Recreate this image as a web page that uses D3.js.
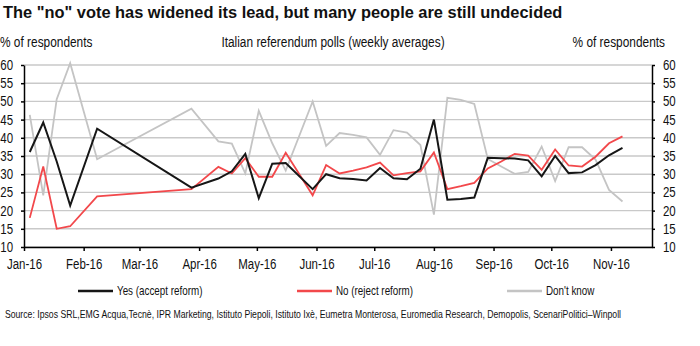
<!DOCTYPE html>
<html>
<head>
<meta charset="utf-8">
<script src="https://cdn.jsdelivr.net/npm/d3@7"></script>
<style>
  body { margin: 0; background: #fff; }
  svg { display: block; }
</style>
</head>
<body>
<svg id="chart" width="700" height="346"></svg>
<script>
// weekly poll averages
var weeks = ["2016-01-04","2016-01-11","2016-01-18","2016-01-25","2016-02-08","2016-03-28",
             "2016-04-11","2016-04-18","2016-04-25","2016-05-02","2016-05-09","2016-05-16",
             "2016-05-30","2016-06-06","2016-06-13","2016-06-20","2016-06-27","2016-07-04",
             "2016-07-11","2016-07-18","2016-07-25","2016-08-01","2016-08-08","2016-08-15",
             "2016-08-22","2016-08-29","2016-09-05","2016-09-12","2016-09-19","2016-09-26",
             "2016-10-03","2016-10-10","2016-10-17","2016-10-24","2016-10-31","2016-11-07"];

var yesValues = [36.1, 44.2, 33.5, 21.4, 42.5, 26.3, 28.8, 30.8, 35.6, 23.4, 32.9, 33.1,
                 25.9, 30.0, 28.9, 28.7, 28.3, 31.7, 28.9, 28.6, 31.5, 45.0, 23.0, 23.2,
                 23.6, 34.5, 34.4, 34.3, 33.8, 29.4, 35.0, 30.3, 30.5, 32.5, 35.2, 37.2];

var noValues = [18.0, 32.1, 15.0, 15.7, 23.9, 25.9, 32.0, 30.2, 34.4, 29.3, 29.3, 35.9,
                24.2, 32.5, 30.2, 31.0, 31.9, 33.2, 29.7, 30.3, 30.8, 36.0, 25.9, 26.7,
                27.6, 31.6, 33.5, 35.6, 35.1, 31.2, 36.8, 32.4, 32.1, 34.8, 38.5, 40.4];

var dontKnowValues = [46.3, 24.2, 50.6, 60.5, 34.1, 48.0, 39.0, 38.4, 30.2, 47.4, 38.5, 31.0,
                      50.0, 37.8, 41.3, 40.8, 40.1, 35.3, 42.1, 41.4, 38.0, 18.9, 51.0, 50.4,
                      49.3, 34.2, 32.1, 30.1, 30.6, 37.6, 28.1, 37.4, 37.4, 34.0, 25.7, 22.5];

var yTicks = [10, 15, 20, 25, 30, 35, 40, 45, 50, 55, 60];
var monthTicks = ["2016-01-01","2016-02-01","2016-03-01","2016-04-01","2016-05-01","2016-06-01",
                  "2016-07-01","2016-08-01","2016-09-01","2016-10-01","2016-11-01"];

var seriesNames = ["Yes (accept reform)", "No (reject reform)", "Don't know"];

var parseDay = d3.timeParse("%Y-%m-%d");
var font = "'Liberation Sans', Arial, sans-serif";

// no Arial Narrow here, so squeeze the regular face sideways around its anchor
function narrow(sel) {
	sel.each(function() {
		var t = d3.select(this);
		var x = +t.attr("x") || 0;
		t.attr("transform", "translate(" + x + ",0) scale(0.82,1) translate(" + (-x) + ",0)");
	});
}

var margin = {top: 65, right: 48, bottom: 99, left: 24},
	width = 700 - margin.left - margin.right,
	height = 346 - margin.top - margin.bottom;

var svgRoot = d3.select("#chart");
var svg = svgRoot.append("g")
	.attr("transform", "translate(" + margin.left + "," + margin.top + ")");

var xScale = d3.scaleTime()
	.domain([new Date(2016, 0, 1), new Date(2016, 10, 22, 8)])
	.range([0, width]);

var yScale = d3.scaleLinear()
	.domain([10, 60])
	.range([height, 0]);

// horizontal gridlines
svg.selectAll(".grid")
	.data(yTicks)
	.enter()
	.append("line")
	.attr("class", "grid")
	.attr("x1", 0)
	.attr("x2", width)
	.attr("y1", function(d) { return yScale(d); })
	.attr("y2", function(d) { return yScale(d); })
	.attr("stroke", "#c9c9c9")
	.attr("stroke-width", 1.4);

var series = [
	{name: seriesNames[0], values: yesValues, color: "#161616", width: 2},
	{name: seriesNames[1], values: noValues, color: "#f2484b", width: 1.8},
	{name: seriesNames[2], values: dontKnowValues, color: "#c4c4c4", width: 1.8}
];

var line = d3.line()
	.x(function(d) { return xScale(d.date); })
	.y(function(d) { return yScale(d.value); });

// draw don't know first so the others sit on top
series.slice().reverse().forEach(function(s) {
	var pts = weeks.map(function(w, i) { return {date: parseDay(w), value: s.values[i]}; })
		.filter(function(d) { return d.value != null; });
	svg.append("path")
		.datum(pts)
		.attr("fill", "none")
		.attr("stroke", s.color)
		.attr("stroke-width", s.width)
		.attr("d", line);
});

// axes
var xAxis = d3.axisBottom(xScale)
	.tickValues(monthTicks.map(parseDay))
	.tickFormat(d3.timeFormat("%b-%y"))
	.tickSize(4)
	.tickSizeOuter(0)
	.tickPadding(8);

var yAxisLeft = d3.axisLeft(yScale)
	.tickValues(yTicks)
	.tickSize(3)
	.tickSizeOuter(0)
	.tickPadding(8);

var yAxisRight = d3.axisRight(yScale)
	.tickValues(yTicks)
	.tickSize(3)
	.tickSizeOuter(0)
	.tickPadding(8);

svg.append("g")
	.attr("class", "xaxis")
	.attr("transform", "translate(0," + height + ")")
	.call(xAxis);

svg.append("g")
	.attr("class", "yaxis")
	.call(yAxisLeft);

svg.append("g")
	.attr("class", "yaxis")
	.attr("transform", "translate(" + width + ",0)")
	.call(yAxisRight);

svg.selectAll(".xaxis, .yaxis").selectAll("path, line")
	.attr("stroke", "#000")
	.attr("stroke-width", 1.5);

svg.selectAll(".xaxis, .yaxis").selectAll("text")
	.attr("fill", "#111")
	.style("font-family", font)
	.style("font-size", "14px")
	.call(narrow);

// title + headers
svgRoot.append("text")
	.attr("x", 3)
	.attr("y", 18)
	.style("font-family", font)
	.style("font-weight", "bold")
	.style("font-size", "16.4px")
	.attr("fill", "#111")
	.text('The "no" vote has widened its lead, but many people are still undecided');

var headers = [
	{text: "% of respondents", x: 0, anchor: "start"},
	{text: "Italian referendum polls (weekly averages)", x: 333, anchor: "middle"},
	{text: "% of respondents", x: 665, anchor: "end"}
];

svgRoot.selectAll(".header")
	.data(headers)
	.enter()
	.append("text")
	.attr("class", "header")
	.attr("x", function(d) { return d.x; })
	.attr("y", 47)
	.attr("text-anchor", function(d) { return d.anchor; })
	.style("font-family", font)
	.style("font-size", "14.5px")
	.attr("fill", "#111")
	.text(function(d) { return d.text; })
	.call(narrow);

// legend
var legendX = [78, 297, 507];
var legend = svgRoot.selectAll(".legend")
	.data(series)
	.enter()
	.append("g")
	.attr("class", "legend")
	.attr("transform", function(d, i) { return "translate(" + legendX[i] + ",291)"; });

legend.append("line")
	.attr("x1", 0)
	.attr("x2", 35)
	.attr("stroke", function(d) { return d.color; })
	.attr("stroke-width", 2.5);

legend.append("text")
	.attr("x", 39)
	.attr("dy", "0.35em")
	.style("font-family", font)
	.style("font-size", "12px")
	.attr("fill", "#111")
	.text(function(d) { return d.name; })
	.call(narrow);

// source line
svgRoot.append("text")
	.attr("x", 621)
	.attr("y", 318)
	.attr("text-anchor", "end")
	.style("font-family", font)
	.style("font-size", "10.6px")
	.attr("fill", "#111")
	.text("Source: Ipsos SRL,EMG Acqua,Tecnè, IPR Marketing, Istituto Piepoli, Istituto Ixè, Eumetra Monterosa, Euromedia Research, Demopolis, ScenariPolitici–Winpoll")
	.call(narrow);
</script>
</body>
</html>
